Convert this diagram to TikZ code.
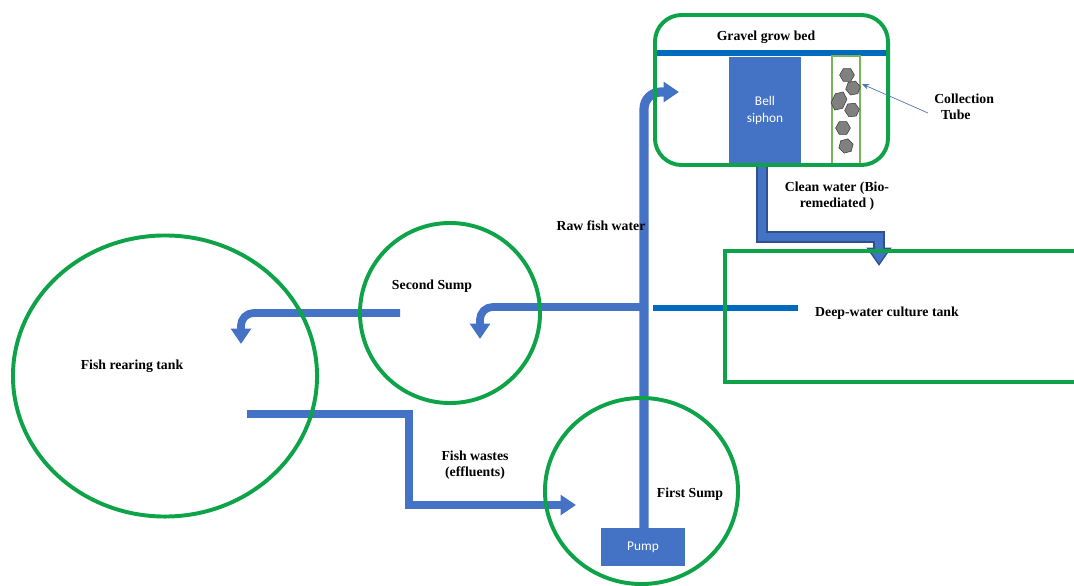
\documentclass[tikz,border=0pt]{standalone}
\usepackage{fontspec}
\setmainfont{Liberation Serif}
\newfontfamily\officefont{Carlito}
\usepackage{tikz}
\usetikzlibrary{shapes.geometric}
\usetikzlibrary{arrows.meta}
\definecolor{tankgreen}{RGB}{14,163,72}
\definecolor{pipeblue}{RGB}{68,114,196}
\definecolor{pipeedge}{RGB}{47,82,143}
\definecolor{levelblue}{RGB}{0,106,190}
\definecolor{tubegreen}{RGB}{120,180,90}
\definecolor{gravel}{RGB}{128,128,128}
\tikzset{wall/.style={draw=tankgreen, line width=2.8pt}}
\tikzset{pipe/.style={draw=pipeblue, line width=5.5pt}}
\tikzset{flow/.style={pipe, -{Triangle[width=14pt,length=11pt]}}}
\tikzset{level/.style={draw=levelblue, line width=4pt}}
\tikzset{part/.style={fill=pipeblue, text=white, font=\officefont\fontsize{9.5}{12}\selectfont}}
\tikzset{rock/.style={regular polygon, regular polygon sides=6, draw=gray!50!black, fill=gravel, minimum size=0.37cm, line width=0.4pt}}

\begin{document}
\begin{tikzpicture}[x=0.025cm, y=-0.025cm]
	% Default action for each node
	\tikzstyle{every node}=[inner sep=0pt, align=center, font=\fontsize{9.8}{11.5}\selectfont\bfseries];

	\useasboundingbox (0,0) rectangle (1074,586);

	% Pipe ends
	\coordinate (riser foot) at (644,530);		\coordinate (riser top) at (679,92);
	\coordinate (branch start) at (644,307);	\coordinate (second inlet) at (480,339);
	\coordinate (return start) at (400,313);	\coordinate (rear inlet) at (241,344);
	\coordinate (waste start) at (247,414);		\coordinate (waste bend) at (409,505);	\coordinate (first inlet) at (576,505);
	\coordinate (siphon foot) at (762,160);		\coordinate (clean bend) at (879,237);	\coordinate (dwc inlet) at (879,266);
	\coordinate (dwc level west) at (653,308);	\coordinate (dwc level east) at (798,308);
	\coordinate (bed level west) at (657,53);	\coordinate (bed level east) at (886,53);
	\coordinate (dwc top east) at (1080,251);	\coordinate (dwc top west) at (725,251);
	\coordinate (dwc bottom west) at (725,382);	\coordinate (dwc bottom east) at (1080,382);

	% Pipes
	\draw[flow, line width=6.5pt, rounded corners=12pt] (riser foot) |- (riser top);
	\draw[flow, rounded corners=9pt] (branch start) -| (second inlet);
	\draw[flow, rounded corners=9pt] (return start) -| (rear inlet);
	\draw[flow] (waste start) -| (waste bend) -- (first inlet);

	\draw[draw=pipeedge, line width=8.5pt, -{Triangle[width=17pt,length=13pt]}] (siphon foot) |- (clean bend) -- (dwc inlet);
	\draw[pipe, line width=6pt, -{Triangle[width=13pt,length=10pt]}, shorten >=1.9pt] (siphon foot) |- (clean bend) -- (dwc inlet);

	\draw[level] (dwc level west) -- (dwc level east);

	% Tanks
	\node[wall, ellipse, minimum width=7.6cm, minimum height=7.025cm] (rear) at (165,376) {};
	\node[wall, ellipse, minimum width=4.5cm, minimum height=4.5cm] (second) at (450,313) {};
	\node[wall, ellipse, minimum width=4.825cm, minimum height=4.65cm] (first) at (641.5,491) {};
	\draw[wall] (dwc top east) -- (dwc top west) -- (dwc bottom west) -- (dwc bottom east);

	% Grow bed
	\draw[level] (bed level west) -- (bed level east);
	\node[part, minimum width=1.8cm, minimum height=2.675cm] (siphon) at (765,110.5) {Bell\\siphon};
	\node[draw=tubegreen, line width=0.8pt, minimum width=0.7cm, minimum height=2.7cm] (tube) at (846,110) {};
	\node[wall, rounded corners=19pt, minimum width=5.825cm, minimum height=3.75cm] (bed) at (771.5,90) {};

	\node[rock] (rock1) at (847,75) {};
	\node[rock, rotate=10] (rock2) at (853,88) {};
	\node[rock, rotate=65, xscale=1.35] (rock3) at (839,101) {};
	\node[rock, rotate=5] (rock4) at (852,110) {};
	\node[rock] (rock5) at (843,128) {};
	\node[rock, rotate=15] (rock6) at (846,146) {};

	% Pump
	\node[part, minimum width=2.1cm, minimum height=0.95cm] (pump) at (643,547) {Pump};

	% Labels
	\node (bed label) at (766,37) {Gravel grow bed};
	\node[align=left, anchor=west] (tube label) at (934,107) {Collection\\\ \ Tube};
	\draw[draw=pipeblue!80!gray, line width=0.5pt, -{Stealth[width=4pt,length=5pt]}] (tube label.west) ++(-6,6) coordinate (tube pointer) -- (862,84);
	\node (raw label) at (601,226) {Raw fish water};
	\node (clean label) at (837,196) {Clean water (Bio-\\remediated )};
	\node (second label) at (432,286) {Second Sump};
	\node (dwc label) at (887,313) {Deep-water culture tank};
	\node (rear label) at (132,366) {Fish rearing tank};
	\node (waste label) at (475,465) {Fish wastes\\(effluents)};
	\node (first label) at (690,494) {First Sump};

\end{tikzpicture}
\end{document}
